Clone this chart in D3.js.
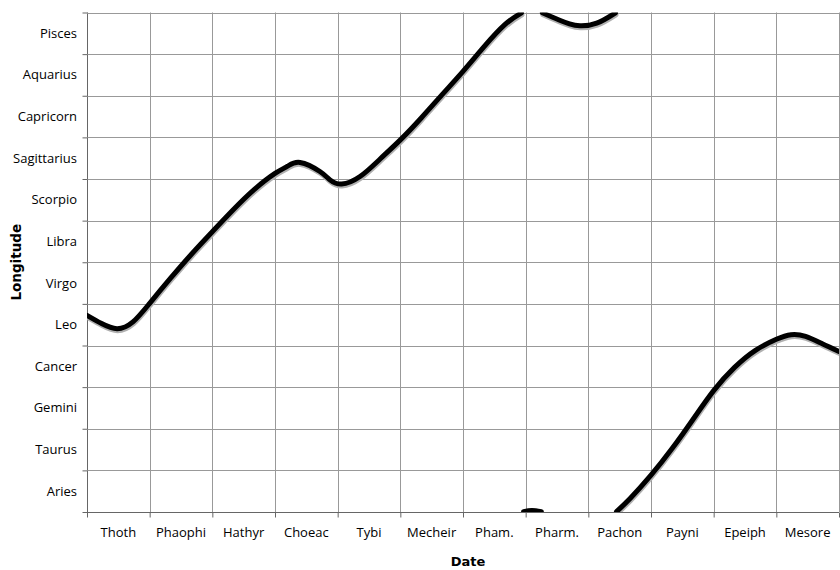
<!DOCTYPE html>
<html><head><meta charset="utf-8">
<script src="https://cdn.jsdelivr.net/npm/d3@7"></script>
<style>body{margin:0;background:#fff}svg{display:block}</style>
</head><body>
<script>
const months = ["Thoth","Phaophi","Hathyr","Choeac","Tybi","Mecheir","Pham.","Pharm.","Pachon","Payni","Epeiph","Mesore"];
const signs = ["Aries","Taurus","Gemini","Cancer","Leo","Virgo","Libra","Scorpio","Sagittarius","Capricorn","Aquarius","Pisces"];
// day of the Egyptian year and ecliptic longitude in degrees (0-360, wraps at Aries)
const days = [0, 7, 14.4, 22, 30, 40, 50, 60, 70, 80, 90, 96, 102, 111.5, 116.3, 121.9, 130.7, 140.3, 150, 160, 170, 180, 190, 200, 208,
              209, 213, 217.5,
              218, 226, 231, 236, 244, 253,
              253.5, 260, 270, 280, 290, 300, 310, 320, 330, 337, 344, 352, 360];
const longitude = [141.7, 135.8, 132.1, 137, 150.4, 168.5, 185.8, 202, 217.8, 232.3, 244, 249.2, 251.9, 245.4, 239.4, 236.4, 241.8, 254.4, 268.2, 284, 300.8, 317.6, 335.2, 351.2, 359.7,
                   0.2, 1.0, 0.2,
                   359.8, 354.6, 351.8, 350.4, 352.3, 359.8,
                   0.3, 9.7, 26.5, 45.5, 66.5, 87.5, 104.2, 116.5, 124.5, 127.8, 126.6, 121.3, 115.7];

const W = 840, H = 570;
const m = {left: 87, right: 1, top: 12.5, bottom: 58};
const svg = d3.select("body").append("svg").attr("width", W).attr("height", H);
const x = d3.scaleLinear().domain([0, 360]).range([m.left, W - m.right]);
const y = d3.scaleLinear().domain([0, 360]).range([H - m.bottom, m.top]);
const font = "'Open Sans', 'DejaVu Sans', sans-serif";

// grid
const g = svg.append("g");
d3.range(0, 361, 30).forEach(d => {
  g.append("line").attr("x1", Math.round(x(d)) + 0.5).attr("x2", Math.round(x(d)) + 0.5)
    .attr("y1", y(0)).attr("y2", y(360)).attr("stroke", d === 0 ? "#666" : "#999").attr("stroke-width", 1);
  g.append("line").attr("x1", x(0)).attr("x2", x(360))
    .attr("y1", Math.round(y(d)) + 0.5).attr("y2", Math.round(y(d)) + 0.5).attr("stroke", d === 0 ? "#666" : "#999").attr("stroke-width", 1);
});

// axes with ticks
const xAxis = d3.axisBottom(x).tickValues(d3.range(0, 361, 30)).tickSize(5).tickFormat("");
const yAxis = d3.axisLeft(y).tickValues(d3.range(0, 361, 30)).tickSize(5).tickFormat("");
svg.append("g").attr("transform", `translate(0,${Math.round(y(0)) + 0.5})`).call(xAxis)
  .call(a => a.select(".domain").remove()).selectAll("line").attr("stroke", "#666");
svg.append("g").attr("transform", `translate(${Math.round(x(0)) + 0.5},0)`).call(yAxis)
  .call(a => a.select(".domain").remove()).selectAll("line").attr("stroke", "#666");

// category labels
svg.append("g").selectAll("text").data(months).join("text")
  .attr("x", (d, i) => x(i * 30 + 15)).attr("y", 537)
  .attr("text-anchor", "middle").attr("font-family", font).attr("font-size", 13).attr("fill", "#000")
  .text(d => d);
svg.append("g").selectAll("text").data(signs).join("text")
  .attr("x", 77).attr("y", (d, i) => y(i * 30 + 15) + 4.5)
  .attr("text-anchor", "end").attr("font-family", font).attr("font-size", 13).attr("fill", "#000")
  .text(d => d);

// titles
svg.append("text").attr("x", 468).attr("y", 566).attr("text-anchor", "middle")
  .attr("font-family", "'DejaVu Sans', sans-serif").attr("font-weight", "bold").attr("font-size", 13).text("Date");
svg.append("text").attr("transform", `translate(21,${(y(0) + y(360)) / 2}) rotate(-90)`).attr("text-anchor", "middle")
  .attr("font-family", "'DejaVu Sans', sans-serif").attr("font-weight", "bold").attr("font-size", 13.5).text("Longitude");

// line, broken into segments where the longitude wraps past 360°
svg.append("clipPath").attr("id", "clip").append("rect")
  .attr("x", x(0)).attr("y", y(360)).attr("width", x(360) - x(0)).attr("height", y(0) - y(360));
const segments = [];
days.forEach((d, i) => {
  if (i === 0 || Math.abs(longitude[i] - longitude[i - 1]) > 180) segments.push([]);
  segments[segments.length - 1].push([d, longitude[i]]);
});
const line = d3.line().x(d => x(d[0])).y(d => y(d[1])).curve(d3.curveNatural);
const plot = svg.append("g").attr("clip-path", "url(#clip)");
plot.selectAll("path.shadow").data(segments).join("path").attr("class", "shadow")
  .attr("d", line).attr("fill", "none").attr("stroke", "#b0b0b0").attr("stroke-width", 5)
  .attr("stroke-linecap", "round").attr("transform", "translate(0.5,2)");
plot.selectAll("path.main").data(segments).join("path").attr("class", "main")
  .attr("d", line).attr("fill", "none").attr("stroke", "#000").attr("stroke-width", 5)
  .attr("stroke-linecap", "round").attr("stroke-linejoin", "round");
</script>
</body></html>
